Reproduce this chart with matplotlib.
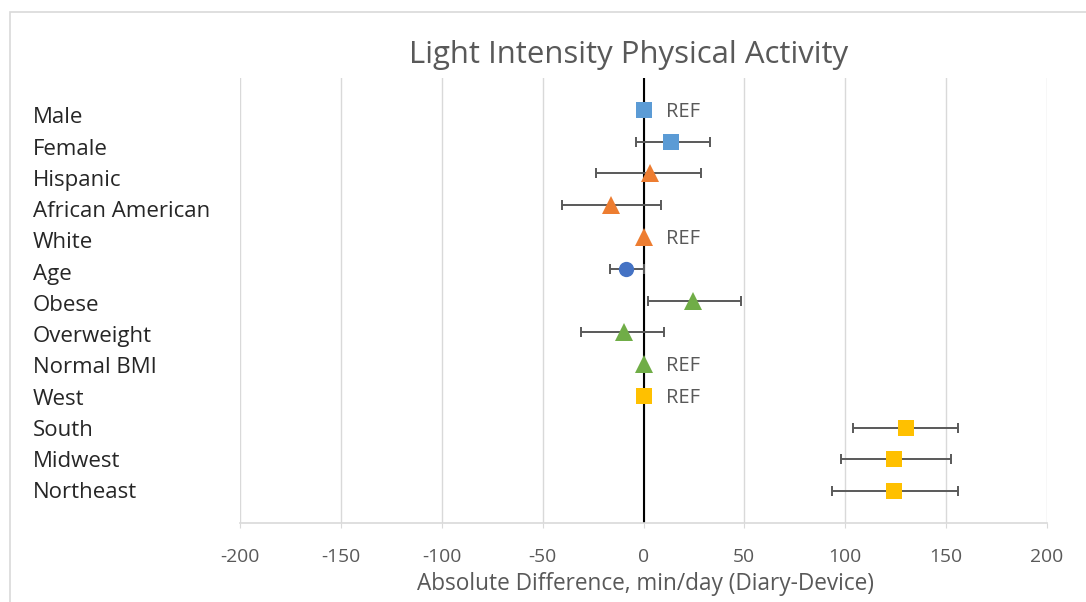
import matplotlib
matplotlib.use("Agg")
import matplotlib.pyplot as plt
from matplotlib.patches import Rectangle
import numpy as np

plt.rcParams['font.family'] = ['Open Sans', 'DejaVu Sans']

categories = ["Male", "Female", "Hispanic", "African American", "White", "Age",
              "Obese", "Overweight", "Normal BMI", "West", "South", "Midwest", "Northeast"]
values = [0, 13.7, 3.0, -15.9, 0, -8.8, 24.5, -9.9, 0, 0, 130.0, 124.2, 124.2]
lower = [None, -3.5, -23.3, -40.2, None, -16.7, 2.1, -30.9, None, None, 103.7, 98.0, 93.3]
upper = [None, 33.2, 28.6, 8.6, None, 0.0, 48.3, 10.4, None, None, 156.0, 152.2, 156.0]
is_ref = [True, False, False, False, True, False, False, False, True, True, False, False, False]
groups = ["sex", "sex", "race", "race", "race", "age", "bmi", "bmi", "bmi",
          "region", "region", "region", "region"]
group_style = {
    "sex": ("s", "#5B9BD5", 11),
    "race": ("^", "#ED7D31", 12.5),
    "age": ("o", "#4472C4", 11),
    "bmi": ("^", "#70AD47", 12.5),
    "region": ("s", "#FFC000", 11),
}
xticks = [-200, -150, -100, -50, 0, 50, 100, 150, 200]

W, H = 1086, 602
PX = 72 / 100  # points per pixel
fig = plt.figure(figsize=(W / 100, H / 100), dpi=100)
fig.patches.append(Rectangle((10 / W, -0.1), 1.2, 1.1 - 12 / H, transform=fig.transFigure,
                             fill=False, edgecolor="#d9d9d9", linewidth=1.2))
renderer = fig.canvas.get_renderer()


def fit_size(text, target_px, base=12.0):
    t = fig.text(0, 0, text, fontsize=base)
    w = t.get_window_extent(renderer=renderer).width
    t.remove()
    return base * target_px / w


label_fs = fit_size("African American", 176)
title_fs = fit_size("Light Intensity Physical Activity", 438)
tick_fs = fit_size("150", 33)
xlabel_fs = fit_size("Absolute Difference, min/day (Diary-Device)", 454)
ref_fs = fit_size("REF", 34)

ax_left, ax_top, ax_right, ax_bottom = 240, 78, 1047, 523
ax = fig.add_axes([ax_left / W, 1 - ax_bottom / H, (ax_right - ax_left) / W,
                   (ax_bottom - ax_top) / H])
n = len(categories)
ypos = np.arange(n, 0, -1)  # Male at top

ax.set_xlim(-200, 200)
ax.set_ylim(0, n + 1)
for x in xticks:
    ax.axvline(x, color="#d9d9d9", lw=1.0, zorder=0)
ax.axvline(0, color="black", lw=1.5, zorder=1)

# category label rows (baseline in pixels from top)
lab_first, lab_step = 123.3, 31.25
for i in range(n):
    m, c, ms = group_style[groups[i]]
    v = values[i]
    y = ypos[i]
    if lower[i] is not None:
        ax.errorbar([v], [y], xerr=[[v - lower[i]], [upper[i] - v]], fmt="none",
                    ecolor="#595959", elinewidth=1.4, capsize=3.4, capthick=1.4, zorder=2)
    ax.plot([v], [y], marker=m, color=c, markersize=ms, linestyle="none", zorder=3,
            markeredgewidth=0)
    if is_ref[i]:
        ax.annotate("REF", (v, y), xytext=(23 * PX, -7 * PX), textcoords="offset points",
                    ha="left", va="baseline", fontsize=ref_fs, color="#595959")
    fig.text(33 / W, 1 - (lab_first + i * lab_step) / H, categories[i],
             ha="left", va="baseline", fontsize=label_fs, color="#262626")

ax.set_xticks(xticks)
ax.set_xticklabels([str(t) for t in xticks], fontsize=tick_fs, color="#595959", va="baseline")
ax.set_yticks([])
for s in ["top", "left", "right"]:
    ax.spines[s].set_visible(False)
ax.spines["bottom"].set_color("#d9d9d9")
ax.spines["bottom"].set_linewidth(1.2)
tick_len = 5
ax.tick_params(axis="x", length=tick_len * PX, color="#d9d9d9",
               pad=(562 - ax_bottom - tick_len) * PX)
ax.set_xlabel("Absolute Difference, min/day (Diary-Device)", fontsize=xlabel_fs,
              color="#595959", va="baseline")
ax.xaxis.set_label_coords((645 - ax_left) / (ax_right - ax_left),
                          (ax_bottom - 590) / (ax_bottom - ax_top))

fig.text(629 / W, 1 - 63.3 / H, "Light Intensity Physical Activity", ha="center",
         va="baseline", fontsize=title_fs, color="#595959")

fig.savefig("out.png", dpi=100)
